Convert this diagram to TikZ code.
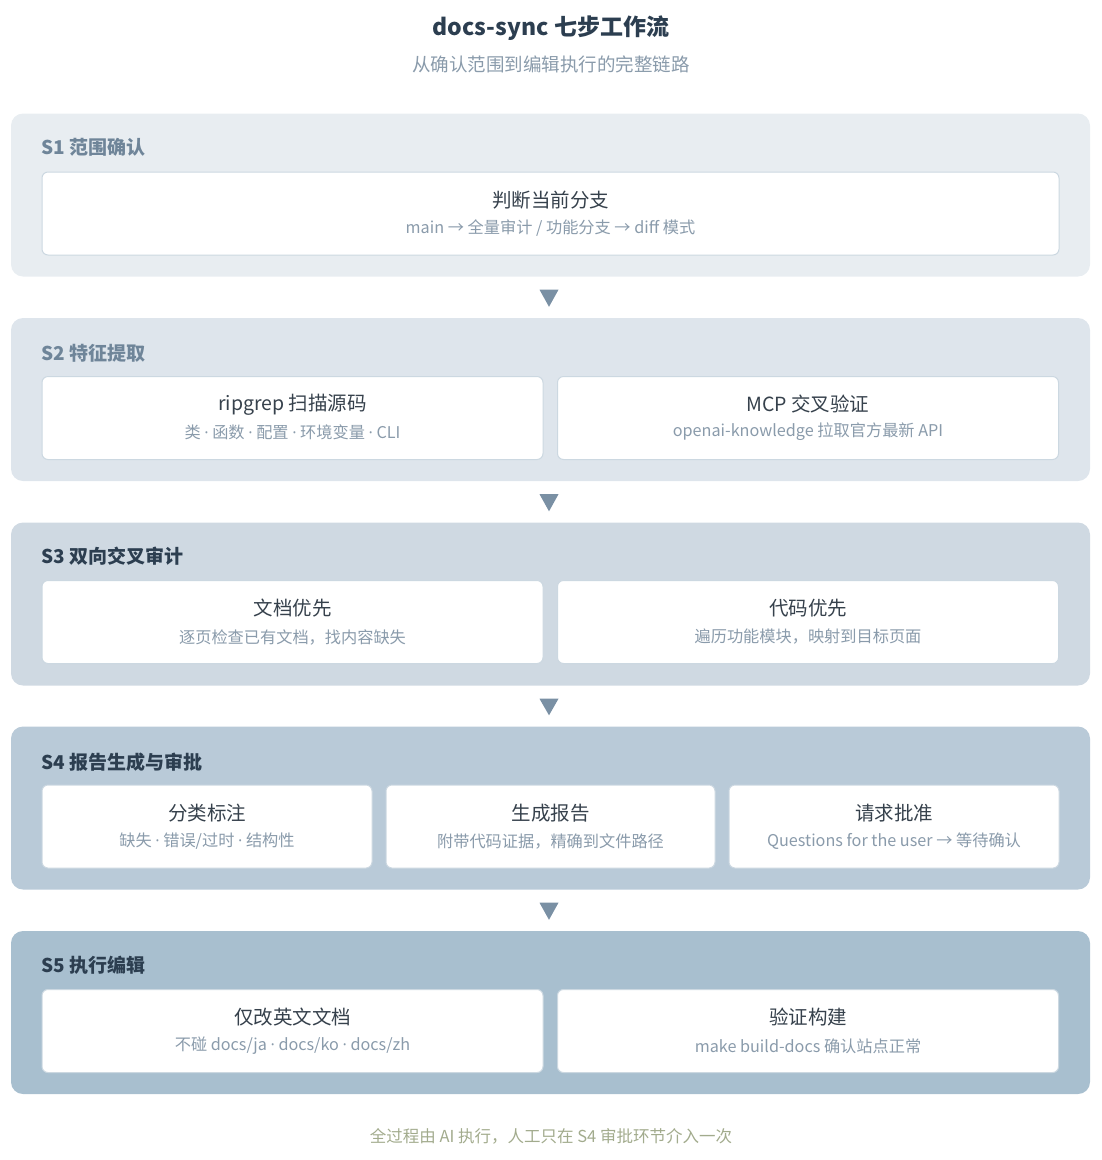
\documentclass[tikz,border=0pt]{standalone}
\usepackage{fontspec}
\setmainfont{Noto Sans CJK SC}
\newfontfamily\latinf{Open Sans}
\newcommand\dotsep{ {\latinf ·} }
\usetikzlibrary{positioning}

\definecolor{ink}{HTML}{2C3E50}
\definecolor{mute}{HTML}{6F8599}
\definecolor{subtxt}{HTML}{8A9BAB}
\definecolor{bodytxt}{HTML}{36414C}
\definecolor{tri}{HTML}{7A90A4}
\definecolor{foot}{HTML}{A2AB8D}
\definecolor{edge}{HTML}{CCD8E1}
\definecolor{pa}{HTML}{E8EDF1}
\definecolor{pb}{HTML}{DEE5EC}
\definecolor{pc}{HTML}{CFD9E2}
\definecolor{pd}{HTML}{B9CAD8}
\definecolor{pe}{HTML}{A8BFCF}

\begin{document}
\begin{tikzpicture}[x=1pt, y=-1pt,
    panel/.style={rounded corners=12pt, minimum width=1079pt, minimum height=163pt, inner sep=0pt},
    card/.style={draw=edge, line width=1pt, fill=white, rounded corners=6pt, minimum height=83pt, inner sep=0pt},
    stitle/.style={anchor=west, inner sep=0pt, font=\fontsize{19}{22}\selectfont\bfseries},
    main/.style={inner sep=0pt, text=bodytxt, font=\fontsize{19.5}{23}\selectfont},
    note/.style={inner sep=0pt, text=subtxt, font=\fontsize{16.2}{19}\selectfont}]
    \useasboundingbox (0,0) rectangle (1102,1160);

    % title
    \node[inner sep=0pt, text=ink, font=\fontsize{23}{27}\selectfont\bfseries] (title) at (551,28) {docs-sync 七步工作流};
    \node[inner sep=0pt, text=subtxt, font=\fontsize{18.5}{22}\selectfont] (subtitle) at (551,64) {从确认范围到编辑执行的完整链路};

    % stage panels
    \node[panel, fill=pa] (s1) at (550.5,195) {};
    \node[panel, fill=pb] (s2) at (550.5,399.5) {};
    \node[panel, fill=pc] (s3) at (550.5,604) {};
    \node[panel, fill=pd] (s4) at (550.5,808) {};
    \node[panel, fill=pe] (s5) at (550.5,1012.5) {};

    \node[stitle, text=mute] (t1) at (41,147) {S1 范围确认};
    \node[stitle, text=mute] (t2) at (41,353) {S2 特征提取};
    \node[stitle, text=ink] (t3) at (41,556) {S3 双向交叉审计};
    \node[stitle, text=ink] (t4) at (41,762) {S4 报告生成与审批};
    \node[stitle, text=ink] (t5) at (41,965) {S5 执行编辑};

    % S1
    \node[card, minimum width=1017pt] (k1) at (550.5,213.5) {};
    \node[main] (k1m) at ([yshift=13.5pt]k1.center) {判断当前分支};
    \node[note] (k1n) at ([yshift=-15pt]k1.center) {main → 全量审计 / 功能分支 → diff 模式};

    % S2
    \node[card, minimum width=501pt] (k2a) at (292.5,418) {};
    \node[main] (k2am) at ([yshift=13.5pt]k2a.center) {ripgrep 扫描源码};
    \node[note] (k2an) at ([yshift=-14pt]k2a.center) {类\dotsep 函数\dotsep 配置\dotsep 环境变量\dotsep CLI};
    \node[card, minimum width=501pt] (k2b) at (808,418) {};
    \node[main] (k2bm) at ([yshift=13.5pt]k2b.center) {MCP 交叉验证};
    \node[note] (k2bn) at ([yshift=-14pt]k2b.center) {openai-knowledge 拉取官方最新 API};

    % S3
    \node[card, minimum width=501pt] (k3a) at (292.5,622) {};
    \node[main] (k3am) at ([yshift=13.5pt]k3a.center) {文档优先};
    \node[note] (k3an) at ([yshift=-15pt]k3a.center) {逐页检查已有文档，找内容缺失};
    \node[card, minimum width=501pt] (k3b) at (808,622) {};
    \node[main] (k3bm) at ([yshift=13.5pt]k3b.center) {代码优先};
    \node[note] (k3bn) at ([yshift=-15pt]k3b.center) {遍历功能模块，映射到目标页面};

    % S4
    \node[card, minimum width=330pt] (k4a) at (207,826.5) {};
    \node[main] (k4am) at ([yshift=13pt]k4a.center) {分类标注};
    \node[note] (k4an) at ([yshift=-14.5pt]k4a.center) {缺失\dotsep 错误/过时\dotsep 结构性};
    \node[card, minimum width=329pt] (k4b) at (550.5,826.5) {};
    \node[main] (k4bm) at ([yshift=13pt]k4b.center) {生成报告};
    \node[note] (k4bn) at ([yshift=-14.5pt]k4b.center) {附带代码证据，精确到文件路径};
    \node[card, minimum width=330pt] (k4c) at (894,826.5) {};
    \node[main] (k4cm) at ([yshift=13pt]k4c.center) {请求批准};
    \node[note] (k4cn) at ([yshift=-14.5pt]k4c.center) {Questions for the user → 等待确认};

    % S5
    \node[card, minimum width=501pt] (k5a) at (292.5,1031) {};
    \node[main] (k5am) at ([yshift=13.5pt]k5a.center) {仅改英文文档};
    \node[note] (k5an) at ([yshift=-15pt]k5a.center) {不碰 docs/ja\dotsep docs/ko\dotsep docs/zh};
    \node[card, minimum width=501pt] (k5b) at (808,1031) {};
    \node[main] (k5bm) at ([yshift=13.5pt]k5b.center) {验证构建};
    \node[note] (k5bn) at ([yshift=-15pt]k5b.center) {make build-docs 确认站点正常};

    % arrows between stages
    \foreach \a/\b in {s1/s2, s2/s3, s3/s4, s4/s5}
        \fill[tri] ([shift={(-11,13)}]\a.south) -- ++(19,0) -- ([shift={(-1.5,-11)}]\b.north) -- cycle;

    \node[inner sep=0pt, text=foot, font=\fontsize{16.5}{19}\selectfont] (footer) at (551,1136) {全过程由 AI 执行，人工只在 S4 审批环节介入一次};
\end{tikzpicture}
\end{document}
